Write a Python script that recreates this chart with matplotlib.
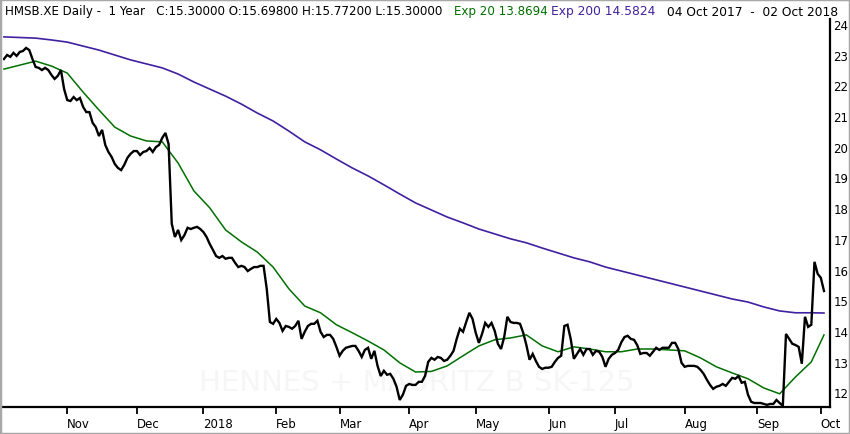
import numpy as np
import pandas as pd
import matplotlib
matplotlib.use("Agg")
import matplotlib.pyplot as plt
from matplotlib.patches import Rectangle

# ---------------- data ----------------
start_date = "2017-10-04"
end_date = "2018-10-02"
trade_dates = pd.bdate_range(start_date, end_date)  # 260 trading days

close = [
    22.86, 22.99, 22.93, 23.06, 22.96, 23.09, 23.12, 23.22, 23.15, 22.86,
    22.60, 22.57, 22.50, 22.57, 22.50, 22.34, 22.21, 22.31, 22.50, 21.88,
    21.52, 21.49, 21.62, 21.52, 21.59, 21.30, 21.13, 21.13, 20.78, 20.64,
    20.35, 20.55, 20.06, 19.83, 19.67, 19.44, 19.31, 19.24, 19.41, 19.64,
    19.77, 19.86, 19.86, 19.73, 19.83, 19.86, 19.96, 19.83, 19.99, 20.06,
    20.29, 20.45, 20.09, 17.49, 17.06, 17.29, 16.96, 17.12, 17.36, 17.32,
    17.36, 17.39, 17.32, 17.22, 17.06, 16.83, 16.64, 16.44, 16.38, 16.44,
    16.35, 16.38, 16.38, 16.22, 16.08, 16.12, 16.08, 15.95, 16.02, 16.08,
    16.08, 16.12, 16.12, 15.37, 14.29, 14.23, 14.39, 14.26, 14.00, 14.16,
    14.13, 14.07, 14.16, 14.33, 13.74, 13.97, 14.16, 14.23, 14.23, 14.33,
    13.97, 13.80, 13.87, 13.87, 13.74, 13.48, 13.19, 13.35, 13.45, 13.48,
    13.51, 13.51, 13.35, 13.15, 13.38, 13.45, 13.09, 13.35, 12.86, 12.53,
    12.70, 12.57, 12.60, 12.44, 12.18, 11.75, 11.92, 12.21, 12.27, 12.24,
    12.24, 12.34, 12.34, 12.53, 12.99, 13.12, 13.06, 13.15, 13.12, 13.02,
    13.06, 13.19, 13.35, 13.74, 14.07, 13.97, 14.29, 14.59, 14.39, 13.94,
    13.61, 13.90, 14.26, 14.13, 14.26, 14.00, 13.58, 13.41, 13.80, 14.46,
    14.29, 14.26, 14.26, 14.23, 13.94, 13.54, 13.06, 13.25, 13.02, 12.83,
    12.76, 12.80, 12.80, 12.83, 12.99, 13.12, 13.19, 14.16, 14.20, 13.74,
    13.09, 13.25, 13.41, 13.22, 13.41, 13.41, 13.22, 13.35, 13.32, 13.15,
    12.83, 13.09, 13.22, 13.28, 13.38, 13.63, 13.80, 13.84, 13.74, 13.71,
    13.54, 13.25, 13.28, 13.28, 13.19, 13.32, 13.45, 13.38, 13.45, 13.45,
    13.45, 13.61, 13.61, 13.41, 12.96, 12.83, 12.86, 12.86, 12.86, 12.83,
    12.73, 12.60, 12.41, 12.24, 12.11, 12.18, 12.21, 12.27, 12.21, 12.34,
    12.47, 12.44, 12.53, 12.31, 12.34, 11.92, 11.69, 11.65, 11.65, 11.65,
    11.62, 11.59, 11.62, 11.62, 11.75, 11.65, 11.56, 13.90, 13.74, 13.58,
    13.54, 13.48, 12.93, 14.46, 14.13, 14.20, 16.25, 15.86, 15.73, 15.30,
]

# moving averages read weekly (every 5th trading day) plus the final day
ema20 = [
    22.53, 22.66, 22.79, 22.63, 22.40, 21.78, 21.20, 20.64, 20.35, 20.19,
    20.16, 19.47, 18.56, 18.01, 17.29, 16.90, 16.57, 16.08, 15.37, 14.81,
    14.59, 14.20, 13.94, 13.67, 13.38, 12.96, 12.66, 12.68, 12.86, 13.19,
    13.51, 13.71, 13.77, 13.87, 13.51, 13.32, 13.48, 13.41, 13.32, 13.32,
    13.41, 13.41, 13.38, 13.35, 13.12, 12.83, 12.63, 12.44, 12.14, 11.95,
    12.50, 12.99, 13.8694,
]
ema200 = [
    23.58, 23.56, 23.54, 23.48, 23.41, 23.28, 23.15, 22.99, 22.83, 22.70,
    22.57, 22.37, 22.11, 21.88, 21.65, 21.39, 21.10, 20.84, 20.51, 20.16,
    19.90, 19.60, 19.31, 19.05, 18.76, 18.46, 18.17, 17.94, 17.71, 17.52,
    17.32, 17.16, 17.00, 16.87, 16.70, 16.54, 16.38, 16.25, 16.08, 15.95,
    15.82, 15.69, 15.56, 15.43, 15.30, 15.17, 15.04, 14.94, 14.78, 14.65,
    14.59, 14.59, 14.5824,
]

month_starts = ["2017-11-01", "2017-12-01", "2018-01-01", "2018-02-01",
                "2018-03-01", "2018-04-01", "2018-05-01", "2018-06-01",
                "2018-07-01", "2018-08-01", "2018-09-01", "2018-10-01"]
month_labels = ["Nov", "Dec", "2018", "Feb", "Mar", "Apr", "May", "Jun",
                "Jul", "Aug", "Sep", "Oct"]
y_ticks = [12, 13, 14, 15, 16, 17, 18, 19, 20, 21, 22, 23, 24]

header_black = "HMSB.XE Daily -  1 Year   C:15.30000 O:15.69800 H:15.77200 L:15.30000"
header_ema20 = "Exp 20 13.8694"
header_ema200 = "Exp 200 14.5824"
header_range = "04 Oct 2017  -  02 Oct 2018"
watermark = "HENNES + MAURITZ B SK-125"

# ---------------- positions (trading-day index) ----------------
d0 = np.datetime64(start_date)
x_close = np.busday_count(d0, trade_dates.values.astype("datetime64[D]"))
ema_dates = list(trade_dates[::5]) + [trade_dates[-1]]
x_ema = np.busday_count(d0, np.array(ema_dates, dtype="datetime64[D]"))
x_months = np.busday_count(d0, np.array(month_starts, dtype="datetime64[D]"))

# ---------------- figure ----------------
W, H = 850, 435
fig = plt.figure(figsize=(W / 100, H / 100), dpi=100)
fig.patch.set_facecolor("white")

ax = fig.add_axes([3 / W, 27 / H, 827 / W, 388 / H])
ax.set_facecolor("white")

GREEN = "#007000"
PURPLE = "#4020a0"

ax.text(0.5 * (x_close[0] + x_close[-1]) + 1, 12.35, watermark, ha="center",
        va="center", fontsize=21, color="#f6f6f6", zorder=0)

ax.plot(x_ema, ema200, color=PURPLE, lw=1.2, zorder=2)
ax.plot(x_ema, ema20, color=GREEN, lw=1.1, zorder=3)
ax.plot(x_close, close, color="black", lw=1.7, zorder=4, solid_joinstyle="miter")

ax.set_xlim(-0.3, 260.9)
ax.set_ylim(11.52, 24.163)

for s in ["top", "left"]:
    ax.spines[s].set_visible(False)
ax.spines["right"].set_linewidth(1.6)
ax.spines["bottom"].set_linewidth(1.6)

ax.yaxis.tick_right()
ax.set_yticks(y_ticks)
ax.set_yticklabels([str(v) for v in y_ticks], fontsize=8.5, family="DejaVu Sans")
ax.tick_params(axis="y", length=0, pad=2.5)

ax.set_xticks(x_months)
ax.set_xticklabels(month_labels, fontsize=8.5, ha="left",
                   family=["Liberation Sans Narrow", "DejaVu Sans"])
ax.tick_params(axis="x", length=5, width=1.3, pad=2, direction="out")

# header
hy = 1 - 12 / H
fig.text(5 / W, hy, header_black, fontsize=8.55, color="black", va="center")
fig.text(454 / W, hy, header_ema20, fontsize=8.6, color=GREEN, va="center")
fig.text(551 / W, hy, header_ema200, fontsize=8.8, color=PURPLE, va="center")
fig.text(838 / W, hy, header_range, fontsize=8.8, color="black", va="center",
         ha="right")

# outer frame
fig.patches.append(Rectangle((0, 0), 1, 1, transform=fig.transFigure,
                             fill=False, edgecolor="#a8a8a8", lw=2.5))

fig.savefig("out.png", dpi=100)
